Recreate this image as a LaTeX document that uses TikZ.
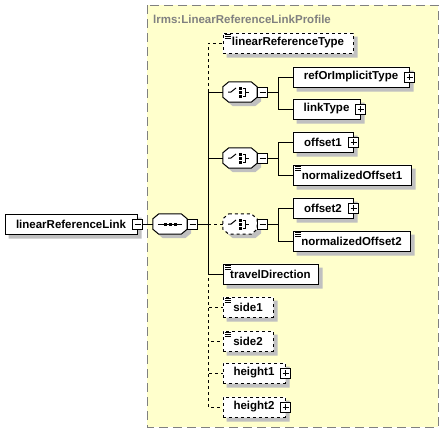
\documentclass[tikz,border=0pt]{standalone}
\usepackage{fontspec}
\setmainfont{Liberation Sans}
\usepackage{xcolor}
\usepackage{tikz}
\pgfdeclarelayer{back}
\pgfdeclarelayer{frame}
\pgfsetlayers{back,frame,main}
\definecolor{panelyellow}{RGB}{255,255,204}
\definecolor{panelgray}{RGB}{128,128,128}
\definecolor{shadowgray}{RGB}{192,192,192}
\tikzstyle{elem} = [rectangle, draw, line width=1pt, text centered, minimum height=20pt, inner sep=0pt, font=\bfseries\fontsize{11.5}{13}\selectfont]
\tikzstyle{opt} = [elem, dashed]
\tikzstyle{simple} = [path picture={\foreach \dy in {1.5,3.5,5.5} \draw [black, solid, line width=0.8pt] ([shift={(2pt,-\dy pt)}]path picture bounding box.north west) -- ++(6pt,0pt);}]
\tikzstyle{compositor} = [rectangle, minimum width=34pt, minimum height=20pt, inner sep=0pt]
\tikzstyle{ground} = [fill=white]
\tikzstyle{sequence} = [compositor, path picture={
  \draw [black, solid, line width=1pt] ([xshift=-12pt]path picture bounding box.center) -- ([xshift=12pt]path picture bounding box.center);
  \foreach \dx in {-5,0,5} \fill [black] ([xshift=\dx pt]path picture bounding box.center) +(-1.5pt,-1.5pt) rectangle +(1.5pt,1.5pt);}]
\tikzstyle{choice} = [compositor, path picture={
  \draw [black, solid, line width=1pt] ([xshift=-12pt]path picture bounding box.center) -- ++(3pt,0pt) -- ++(5pt,4pt);
  \foreach \dy in {-4,0,4} \fill [black] ([yshift=\dy pt]path picture bounding box.center) +(-1.5pt,-1.5pt) rectangle +(1.5pt,1.5pt);
  \draw [black, solid, line width=1pt] ([shift={(3pt,4pt)}]path picture bounding box.center) -- ++(2.5pt,0pt) -- ++(0pt,-8pt) -- ++(-2.5pt,0pt);
  \draw [black, solid, line width=1pt] ([xshift=5.5pt]path picture bounding box.center) -- ++(3.5pt,0pt);}]
\tikzstyle{minusbox} = [rectangle, draw, solid, fill=white, line width=1pt, minimum size=10pt, inner sep=0pt, path picture={
  \draw [black, line width=1pt] ([xshift=-3pt]path picture bounding box.center) -- ([xshift=3pt]path picture bounding box.center);}]
\tikzstyle{plusbox} = [minusbox, path picture={
  \draw [black, line width=1pt] ([xshift=-3pt]path picture bounding box.center) -- ([xshift=3pt]path picture bounding box.center);
  \draw [black, line width=1pt] ([yshift=-3pt]path picture bounding box.center) -- ([yshift=3pt]path picture bounding box.center);}]
\tikzstyle{panel} = [draw=panelgray, fill=panelyellow, line width=1pt, dash pattern=on 9pt off 5pt]
\tikzstyle{title} = [anchor=west, inner sep=0pt, text=panelgray, font=\bfseries\fontsize{11.5}{13}\selectfont]
\tikzstyle{line} = [draw, line width=1pt]
\tikzstyle{dline} = [draw, line width=1pt, dashed]

\begin{document}
\begin{tikzpicture}[x=1pt, y=-1pt]
\useasboundingbox (0,0) rectangle (446,434);
\begin{pgfonlayer}{back}
\path [panel] (147,5) rectangle (438,427);
\end{pgfonlayer}
\node [title] (profile) at (153,19) {lrms:LinearReferenceLinkProfile};

\node [elem, minimum width=132pt] (lin-ref-link) at (71,224) {linearReferenceLink};
\node [minusbox] (lin-ref-link-m) at (lin-ref-link.east) {};
\node [sequence] (seq) at (170,224) {};
\node [minusbox, anchor=west] (seq-m) at (seq.east) {};
\coordinate (trunk) at (208,224);

\node [opt, simple, minimum width=130pt] (lin-ref-type) at (288,43) {linearReferenceType};

\node [choice] (choice1) at (240,92) {};
\node [minusbox, anchor=west] (choice1-m) at (choice1.east) {};
\coordinate (choice1-fork) at (278,92);
\node [elem, minimum width=116pt] (ref-or-impl) at (351,77) {refOrImplicitType};
\node [plusbox] (ref-or-impl-p) at (ref-or-impl.east) {};
\node [elem, minimum width=67pt] (link-type) at (326.5,109) {linkType};
\node [plusbox] (link-type-p) at (link-type.east) {};

\node [choice] (choice2) at (240,158) {};
\node [minusbox, anchor=west] (choice2-m) at (choice2.east) {};
\coordinate (choice2-fork) at (278,158);
\node [elem, minimum width=60pt] (offset1) at (323,142) {offset1};
\node [plusbox] (offset1-p) at (offset1.east) {};
\node [elem, simple, minimum width=118pt] (norm-offset1) at (352,175) {normalizedOffset1};

\node [choice] (choice3) at (240,224) {};
\node [minusbox, anchor=west] (choice3-m) at (choice3.east) {};
\coordinate (choice3-fork) at (278,224);
\node [elem, minimum width=60pt] (offset2) at (323,208) {offset2};
\node [plusbox] (offset2-p) at (offset2.east) {};
\node [elem, simple, minimum width=117pt] (norm-offset2) at (351.5,241) {normalizedOffset2};

\node [elem, simple, minimum width=95pt] (travel-dir) at (270.5,274) {travelDirection};
\node [opt, simple, minimum width=50pt] (side1) at (248,307) {side1};
\node [opt, simple, minimum width=50pt] (side2) at (248,341) {side2};
\node [opt, minimum width=62pt] (height1) at (254,373) {height1};
\node [plusbox] (height1-p) at (height1.east) {};
\node [opt, minimum width=62pt] (height2) at (254,407) {height2};
\node [plusbox] (height2-p) at (height2.east) {};

% shadows, then white grounds, below the nodes
\begin{pgfonlayer}{frame}
\foreach \c/\cx/\cy in {lin-ref-link/0/0, lin-ref-type/0/0, ref-or-impl/0/0, link-type/0/0, offset1/0/0, norm-offset1/0/0, offset2/0/0, norm-offset2/0/0, travel-dir/0/0, side1/0/0, side2/0/0, height1/0/0, height2/0/0, seq/6/5, choice1/6/5, choice2/6/5, choice3/6/5}
  \fill [shadowgray] ([shift={(\cx pt+4pt,-4pt)}]\c.north west) -- ([shift={(-\cx pt+4pt,-4pt)}]\c.north east) -- ([shift={(4pt,-\cy pt-4pt)}]\c.north east) -- ([shift={(4pt,\cy pt-4pt)}]\c.south east) -- ([shift={(-\cx pt+4pt,-4pt)}]\c.south east) -- ([shift={(\cx pt+4pt,-4pt)}]\c.south west) -- ([shift={(4pt,\cy pt-4pt)}]\c.south west) -- ([shift={(4pt,-\cy pt-4pt)}]\c.north west) -- cycle;
\foreach \c/\cx/\cy in {lin-ref-link/0/0, lin-ref-type/0/0, ref-or-impl/0/0, link-type/0/0, offset1/0/0, norm-offset1/0/0, offset2/0/0, norm-offset2/0/0, travel-dir/0/0, side1/0/0, side2/0/0, height1/0/0, height2/0/0, seq/6/5, choice1/6/5, choice2/6/5, choice3/6/5}
  \path [ground] ([xshift=\cx pt]\c.north west) -- ([xshift=-\cx pt]\c.north east) -- ([yshift=-\cy pt]\c.north east) -- ([yshift=\cy pt]\c.south east) -- ([xshift=-\cx pt]\c.south east) -- ([xshift=\cx pt]\c.south west) -- ([yshift=\cy pt]\c.south west) -- ([yshift=-\cy pt]\c.north west) -- cycle;
\foreach \c/\pat in {seq/solid, choice1/solid, choice2/solid, choice3/dashed}
  \draw [line width=1pt, \pat] ([xshift=6pt]\c.north west) -- ([xshift=-6pt]\c.north east) -- ([yshift=-5pt]\c.north east) -- ([yshift=5pt]\c.south east) -- ([xshift=-6pt]\c.south east) -- ([xshift=6pt]\c.south west) -- ([yshift=5pt]\c.south west) -- ([yshift=-5pt]\c.north west) -- cycle;
\end{pgfonlayer}

\path [line] (lin-ref-link-m) -- (seq);
\path [line] (seq-m) -- (trunk);
\path [dline] (trunk) |- (lin-ref-type);
\path [line] (trunk) |- (choice1);
\path [line] (trunk) |- (choice2);
\path [dline] (trunk) -- (choice3);
\path [line] (trunk) |- (travel-dir);
\path [dline] (trunk) |- (side1);
\path [dline] (trunk) |- (side2);
\path [dline] (trunk) |- (height1);
\path [dline] (trunk) |- (height2);
\path [line] (choice1-m) -- (choice1-fork) |- (ref-or-impl);
\path [line] (choice1-fork) |- (link-type);
\path [line] (choice2-m) -- (choice2-fork) |- (offset1);
\path [line] (choice2-fork) |- (norm-offset1);
\path [line] (choice3-m) -- (choice3-fork) |- (offset2);
\path [line] (choice3-fork) |- (norm-offset2);
\end{tikzpicture}
\end{document}
